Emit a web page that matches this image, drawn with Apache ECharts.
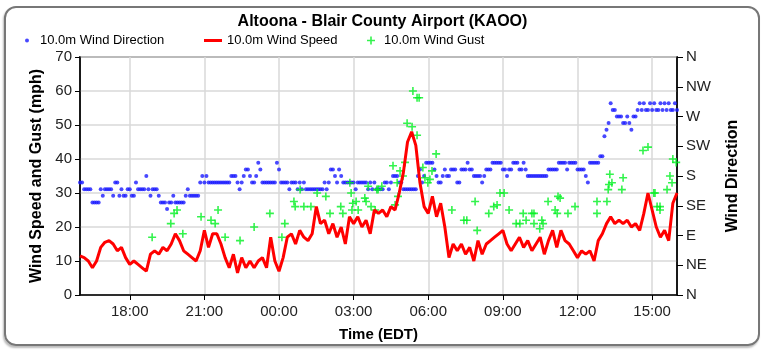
<!DOCTYPE html>
<html>
<head>
<meta charset="utf-8">
<script src="https://cdn.jsdelivr.net/npm/echarts@6/dist/echarts.min.js"></script>
<style>
  html, body { margin: 0; padding: 0; background: #fff; }
  #frame { position: absolute; left: 4px; top: 6px; width: 752px; height: 336px;
           border: 2px solid #777; border-radius: 12px; box-shadow: -1px 2px 2px #bbb; }
  #main { position: absolute; left: 0; top: 0; width: 765px; height: 351px; }
</style>
</head>
<body>
<div id="frame"></div>
<div id="main"></div>
<script>
// 10.0m wind speed, mph, every 10 minutes from 16:00
var speedMph = [
  11.5, 11, 10, 8, 10, 14, 15.5, 16, 15, 13, 14, 11,
  9, 10, 9, 8, 7, 12, 13, 12, 14, 13, 15, 18,
  16, 13, 12, 11, 10, 13, 19, 14, 18, 18, 15, 11,
  8, 12, 6.5, 11, 8, 10, 8, 10, 11, 8, 17, 10,
  7, 11, 17, 18, 15, 19, 17, 16, 18, 26, 21, 22,
  18, 21, 17, 20, 15, 23, 21, 23, 20, 22, 18, 25,
  24, 25, 23, 26, 25, 30, 36, 45, 48, 44, 33, 26,
  24, 29, 23, 27, 20, 11, 15, 13, 15, 12, 14, 10,
  16, 12, 15, 16, 17, 18, 19, 15, 13, 15, 17, 14,
  16, 13, 15, 17, 12, 16, 19, 14, 19, 16, 15, 13,
  11, 13, 12, 13, 10, 16, 18, 21, 23, 21, 22, 21,
  22, 20, 21, 19, 24, 30, 25, 20, 17, 19, 16, 27,
  30
];

// 10.0m wind direction, degrees, every 5 minutes from 16:00
var dirDeg = [
  170,170,160,160,160,160,140,140,140,140,160,150,
  160,160,160,160,150,170,170,150,160,150,150,160,
  160,150,150,170,160,160,160,160,180,160,150,160,
  160,160,150,140,140,140,130,140,140,150,140,140,
  140,140,140,150,160,150,150,150,150,150,170,180,
  170,180,170,170,170,170,170,170,170,170,170,170,
  170,180,180,180,170,160,170,180,190,190,180,170,
  170,180,200,190,170,170,170,170,170,170,170,200,
  190,170,170,170,170,160,170,170,170,160,170,160,
  170,160,160,160,160,160,160,160,160,160,170,160,
  170,190,190,180,170,190,180,170,170,170,170,170,
  170,160,170,170,170,170,170,160,170,160,170,160,
  160,160,160,170,170,160,170,180,180,180,170,170,
  160,160,160,160,160,160,160,180,190,170,180,200,
  200,200,200,190,180,170,170,180,190,180,180,190,
  190,190,170,170,190,190,190,200,190,190,180,180,
  180,180,170,180,190,190,190,200,200,200,200,200,
  190,190,180,190,190,200,200,200,190,190,200,190,
  180,180,180,180,180,180,180,180,180,180,190,190,
  190,190,190,200,200,200,200,190,200,200,200,200,
  190,190,190,190,180,170,200,200,200,200,200,210,
  210,240,250,260,290,280,280,270,270,270,260,260,
  270,260,250,270,270,280,290,280,290,280,280,290,
  280,290,280,280,290,280,290,280,290,280,280,290,
  280
];

// 10.0m wind gust reports
var gustTimes = [
  '18:54','19:39','19:47','19:54','20:08','20:52','21:16','21:26','21:33','21:50',
  '22:26','23:00','23:38','00:07','00:14','00:36','00:39','00:51','01:00','01:17',
  '01:32','01:53','02:03','02:29','02:34','02:51','02:54','02:56','02:58','03:06',
  '03:11','03:27','03:30','03:35','03:42','03:52','03:56','03:59','04:08','04:35',
  '04:40','04:45','04:47','04:52','04:59','05:04','05:09','05:21','05:23','05:33',
  '05:33','05:38','05:47','05:52','05:59','06:04','06:09','06:19','06:57','07:26',
  '07:33','07:53','07:58','08:26','08:38','08:46','08:53','09:03','09:15','09:32',
  '09:41','09:49','09:56','10:10','10:15','10:15','10:29','10:34','10:37','10:49',
  '11:06','11:11','11:13','11:18','11:37','11:54','12:47','12:47','13:11','13:14',
  '13:16','13:18','13:23','13:47','13:50','14:38','14:50','15:04','15:07','15:12',
  '15:19','15:19','15:36','15:43','15:48','15:50','15:58'
];
var gustMph = [
  17, 21, 24, 25, 18, 23, 22, 21, 25, 17,
  16, 20, 24, 17, 21, 27.5, 26, 31, 26, 26,
  30, 29, 24, 26, 24, 33, 30, 25, 27, 27.5,
  25, 28.5, 27.5, 32, 26, 25, 31, 31, 32, 38,
  26.5, 33, 29, 36.5, 35, 39, 50.5, 49.5, 60, 58,
  47, 58, 37.5, 34.5, 33, 34, 36.5, 41.5, 25, 22,
  22, 27.5, 19, 24, 26, 26.5, 30, 30, 25, 21,
  21, 24, 22, 24, 24, 21, 19.5, 22, 21, 27.5,
  25, 24, 29, 28.5, 24, 26, 27.5, 24, 27.5, 31,
  32.5, 35.5, 33, 31, 34.5, 42.5, 43.5, 30, 30, 26,
  26, 25, 31, 35, 33, 40, 39
];

var dirLabels = ['N', 'NE', 'E', 'SE', 'S', 'SW', 'W', 'NW', 'N'];
var timeTicks = [18, 21, 24, 27, 30, 33, 36, 39];

// clock text -> hours on the 16:00..40:00 axis
function clock(s) {
  var p = s.split(':');
  var h = +p[0] + p[1] / 60;
  return h < 16 ? h + 24 : h;
}

var speedData = speedMph.map(function (v, i) { return [16 + i / 6, v]; });
var dirData = dirDeg.map(function (v, i) { return [16 + i / 12, v]; });
var gustData = gustTimes.map(function (t, i) { return [clock(t), gustMph[i]]; });

var plusPath = 'path://M4,0H6V4H10V6H6V10H4V6H0V4H4Z';
var font = 'Liberation Sans, Arial, sans-serif';

var myChart = echarts.init(document.getElementById('main'));
var option = {
  animation: false,
  textStyle: { fontFamily: font },
  title: {
    text: 'Altoona - Blair County Airport (KAOO)',
    left: 'center',
    top: 9,
    textStyle: { fontSize: 16, fontWeight: 'bold', color: '#000', fontFamily: font }
  },
  legend: [
    {
      left: 20, top: 29, itemWidth: 16, itemHeight: 4,
      data: [{ name: '10.0m Wind Direction', icon: 'circle' }],
      textStyle: { fontSize: 13, color: '#000' }
    },
    {
      left: 199, top: 29, itemWidth: 18, itemHeight: 3,
      data: [{ name: '10.0m Wind Speed', icon: 'rect' }],
      textStyle: { fontSize: 13, color: '#000' }
    },
    {
      left: 362, top: 29, itemWidth: 16, itemHeight: 8,
      data: [{ name: '10.0m Wind Gust', icon: plusPath }],
      textStyle: { fontSize: 13, color: '#000' }
    }
  ],
  grid: {
    left: 80, right: 88, top: 57, bottom: 56,
    show: true, borderColor: '#666', borderWidth: 2
  },
  xAxis: {
    type: 'value',
    min: 16,
    max: 40,
    name: 'Time (EDT)',
    nameLocation: 'middle',
    nameGap: 32,
    nameTextStyle: { fontSize: 15, fontWeight: 'bold', color: '#000' },
    axisLine: { show: true, lineStyle: { color: '#000', width: 1.5 } },
    axisTick: { show: true, length: 5, customValues: timeTicks, lineStyle: { color: '#000' } },
    axisLabel: {
      customValues: timeTicks,
      fontSize: 15, color: '#222', margin: 9,
      formatter: function (v) {
        var h = Math.round(v) % 24;
        return (h < 10 ? '0' : '') + h + ':00';
      }
    },
    splitLine: { show: true, lineStyle: { color: '#d9d9d9', width: 1.5 } }
  },
  yAxis: [
    {
      type: 'value',
      min: 0,
      max: 70,
      interval: 10,
      name: 'Wind Speed and Gust (mph)',
      nameLocation: 'middle',
      nameGap: 31,
      nameTextStyle: { fontSize: 16, fontWeight: 'bold', color: '#000' },
      axisLine: { show: true, lineStyle: { color: '#000', width: 1.5 } },
      axisTick: { show: true, length: 5, lineStyle: { color: '#000' } },
      axisLabel: { fontSize: 15, color: '#222', margin: 8 },
      splitLine: { show: true, lineStyle: { color: '#d9d9d9', width: 1.5 } }
    },
    {
      type: 'value',
      min: 0,
      max: 360,
      interval: 45,
      position: 'right',
      name: 'Wind Direction',
      nameLocation: 'middle',
      nameGap: 48,
      nameTextStyle: { fontSize: 16, fontWeight: 'bold', color: '#000' },
      axisLine: { show: true, lineStyle: { color: '#000', width: 1.5 } },
      axisTick: { show: true, length: 6, lineStyle: { color: '#000' } },
      axisLabel: {
        fontSize: 15, color: '#222', margin: 9,
        formatter: function (v) { return dirLabels[Math.round(v / 45)]; }
      },
      splitLine: { show: false }
    }
  ],
  series: [
    {
      name: '10.0m Wind Speed',
      type: 'line',
      yAxisIndex: 0,
      symbol: 'none',
      color: '#ff0000',
      lineStyle: { color: '#ff0000', width: 3 },
      data: speedData
    },
    {
      name: '10.0m Wind Direction',
      type: 'scatter',
      yAxisIndex: 1,
      symbol: 'circle',
      symbolSize: 4,
      color: '#1a1aff',
      data: dirData
    },
    {
      name: '10.0m Wind Gust',
      type: 'scatter',
      yAxisIndex: 0,
      symbol: plusPath,
      symbolSize: 8,
      color: '#00f020',
      data: gustData
    }
  ]
};
myChart.setOption(option);
window.addEventListener('resize', function () {
  myChart.resize();
});
</script>
</body>
</html>
